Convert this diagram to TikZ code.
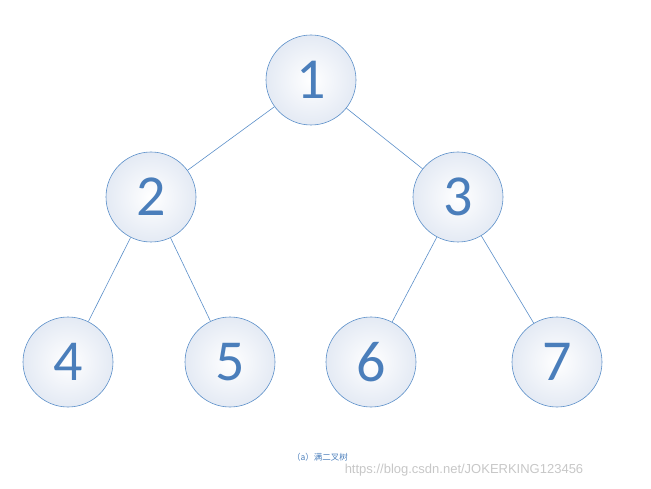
\documentclass[tikz,border=0pt]{standalone}
\usepackage{fontspec}
\setmainfont{Carlito}
\newfontfamily\cjk{Noto Sans CJK SC}
\newfontfamily\wmfont{Liberation Sans}
\definecolor{numblue}{HTML}{4A7EBB}
\definecolor{rimblue}{HTML}{5B8FC9}
\definecolor{fillblue}{HTML}{E4EAF4}

\begin{document}
\begin{tikzpicture}[x=1pt,y=1pt,yscale=-1,xscale=1,
  treenode/.style={circle,draw=rimblue,line width=0.6pt,minimum size=90pt,inner sep=0pt,
    inner color=white,outer color=fillblue,text=numblue,font=\fontsize{58}{58}\selectfont},
  treeedge/.style={draw=rimblue,line width=0.6pt}]
\useasboundingbox (0,0) rectangle (651,489);

% nodes
\node[treenode] (n1) at (311,80) {1};
\node[treenode] (n2) at (151,197) {2};
\node[treenode] (n3) at (458,197) {3};
\node[treenode] (n4) at (68,362) {4};
\node[treenode] (n5) at (230,362) {5};
\node[treenode] (n6) at (371,362) {6};
\node[treenode] (n7) at (557,362) {7};

% edges
\draw[treeedge] (n1) -- (n2);
\draw[treeedge] (n1) -- (n3);
\draw[treeedge] (n2) -- (n4);
\draw[treeedge] (n2) -- (n5);
\draw[treeedge] (n3) -- (n6);
\draw[treeedge] (n3) -- (n7);

% caption
\node[text=numblue,font=\cjk\fontsize{8.5}{9}\selectfont] (cap) at (320,457) {（a）满二叉树};
\node[text=black!22,font=\wmfont\fontsize{13}{13}\selectfont] (wm) at (464,470) {https://blog.csdn.net/JOKERKING123456};
\end{tikzpicture}
\end{document}
